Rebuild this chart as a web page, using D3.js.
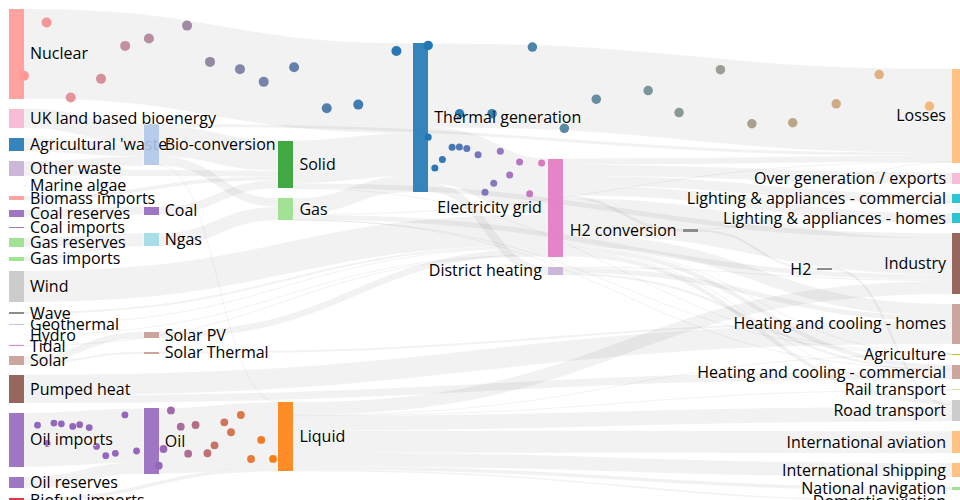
<!DOCTYPE html>
<meta charset="utf-8">
<title>Energy flows with particles</title>
<style>
  body { margin: 0; background: #fff; overflow: hidden; }
  .link { fill: none; stroke: #000; stroke-opacity: .05; }
  .node rect { fill-opacity: .9; shape-rendering: crispEdges; }
  .node text { font-family: "Open Sans", sans-serif; font-size: 16px; pointer-events: none; text-shadow: 0 1px 0 #fff; }
</style>
<body>
<script src="https://d3js.org/d3.v7.min.js"></script>
<script>
var nodeNames = [
  "Agricultural 'waste'", "Bio-conversion", "Liquid", "Losses", "Solid", "Gas",
  "Biofuel imports", "Biomass imports", "Coal imports", "Coal", "Coal reserves",
  "District heating", "Industry", "Heating and cooling - commercial",
  "Heating and cooling - homes", "Electricity grid", "Over generation / exports",
  "H2 conversion", "Road transport", "Agriculture", "Rail transport",
  "Lighting & appliances - commercial", "Lighting & appliances - homes",
  "Gas imports", "Ngas", "Gas reserves", "Thermal generation", "Geothermal", "H2",
  "Hydro", "International shipping", "Domestic aviation", "International aviation",
  "National navigation", "Marine algae", "Nuclear", "Oil imports", "Oil",
  "Oil reserves", "Other waste", "Pumped heat", "Solar PV", "Solar Thermal",
  "Solar", "Tidal", "UK land based bioenergy", "Wave", "Wind"
];

// [source, target, value]
var flows = [
  [0, 1, 124.729], [1, 2, 0.597], [1, 3, 26.862], [1, 4, 280.322], [1, 5, 81.144],
  [6, 2, 35], [7, 4, 35], [8, 9, 11.606], [10, 9, 63.965], [9, 4, 75.571],
  [11, 12, 10.639], [11, 13, 22.505], [11, 14, 46.184], [15, 16, 104.453],
  [15, 14, 113.726], [15, 17, 27.14], [15, 12, 342.165], [15, 18, 37.797],
  [15, 19, 4.412], [15, 13, 40.858], [15, 3, 56.691], [15, 20, 7.863],
  [15, 21, 90.008], [15, 22, 93.494], [23, 24, 40.719], [25, 24, 82.233],
  [5, 13, 0.129], [5, 3, 1.401], [5, 26, 151.891], [5, 19, 2.096], [5, 12, 48.58],
  [27, 15, 7.013], [17, 28, 20.897], [17, 3, 6.242], [28, 18, 20.897],
  [29, 15, 6.995], [2, 12, 121.066], [2, 30, 128.69], [2, 18, 135.835],
  [2, 31, 14.458], [2, 32, 206.267], [2, 19, 3.64], [2, 33, 33.218], [2, 20, 4.413],
  [34, 1, 4.375], [24, 5, 122.952], [35, 26, 839.978], [36, 37, 504.287],
  [38, 37, 107.703], [37, 2, 611.99], [39, 4, 56.587], [39, 1, 77.81],
  [40, 14, 193.026], [40, 13, 70.672], [41, 15, 59.901], [42, 14, 19.263],
  [43, 42, 19.263], [43, 41, 59.901], [4, 19, 0.882], [4, 26, 400.12],
  [4, 12, 46.477], [26, 15, 525.531], [26, 3, 787.129], [26, 11, 79.329],
  [44, 15, 9.452], [45, 1, 182.01], [46, 15, 19.013], [47, 15, 289.366]
];

var category20 = [
  "#1f77b4", "#aec7e8", "#ff7f0e", "#ffbb78", "#2ca02c", "#98df8a", "#d62728",
  "#ff9896", "#9467bd", "#c5b0d5", "#8c564b", "#c49c94", "#e377c2", "#f7b6d2",
  "#7f7f7f", "#c7c7c7", "#bcbd22", "#dbdb8d", "#17becf", "#9edae5"
];

// particles caught mid-flight: [progress along link (0-1), offset from link centre in px]
var nuclearParticles = [
  [0.058, -31.5], [0.0, 22], [0.12, 43], [0.198, 22.9], [0.26, -11.9], [0.321, -21.7],
  [0.419, -40], [0.478, -7.6], [0.555, -5.6], [0.616, 3.3], [0.694, -15.3],
  [0.778, 22.8], [0.859, 17.4], [0.957, -37.2]
];
var lossesParticles = [
  [0.0, -40], [0.06, 28.2], [0.122, 27.7], [0.199, -40], [0.26, 40], [0.321, 9],
  [0.42, -3.6], [0.479, 15.5], [0.558, -31.3], [0.618, 20], [0.696, 16.1],
  [0.779, -5], [0.861, -35.5], [0.957, -4.6]
];
var gridParticles = [
  [0.0, -18.3], [0.056, 12.5], [0.119, 3.3], [0.2, -10.3], [0.261, -12], [0.323, -12.8],
  [0.417, -11.2], [0.603, -26], [0.475, 22.7], [0.548, 9.3], [0.681, -5.8],
  [0.764, -21.7], [0.848, 8.3], [0.948, -23.5]
];
var oilImportParticles = [
  [0.113, -14.6], [0.25, -16.3], [0.312, -15.3], [0.407, -12], [0.465, -13.2],
  [0.545, -9.6], [0.193, 3.9], [0.606, 9.8], [0.683, 19.6], [0.763, 17.6],
  [0.843, -20.5], [0.94, 15.7]
];
var oilParticles = [
  [0.0, 24.7], [0.04, 8], [0.102, -30.5], [0.184, -14], [0.308, -15], [0.246, 13.3],
  [0.407, 14.2], [0.466, 6.9], [0.548, -15.1], [0.604, -4.5], [0.686, -21],
  [0.856, 4.8], [0.771, 23.5], [0.955, 24]
];
var particleSets = [
  {source: "Nuclear", target: "Thermal generation", dots: nuclearParticles},
  {source: "Thermal generation", target: "Losses", dots: lossesParticles},
  {source: "Thermal generation", target: "Electricity grid", dots: gridParticles},
  {source: "Oil imports", target: "Oil", dots: oilImportParticles},
  {source: "Oil", target: "Liquid", dots: oilParticles}
];

// the chart sits 8px in from the corner, like a page with the default body margin
var pageOffset = 8;
var margin = {top: 1, right: 1, bottom: 6, left: 1},
    width = 960 - margin.left - margin.right,
    height = 500 - margin.top - margin.bottom;

var nodeWidth = 15, nodePadding = 10;

var color = d3.scaleOrdinal(category20);

var svg = d3.select("body").append("svg")
    .attr("width", 960)
    .attr("height", 500)
    .style("display", "block")
  .append("g")
    .attr("transform", "translate(" + (margin.left + pageOffset) + "," + (margin.top + pageOffset) + ")");

var nodes = nodeNames.map(function(name) { return {name: name, sourceLinks: [], targetLinks: []}; });
var links = flows.map(function(f) {
  var l = {source: nodes[f[0]], target: nodes[f[1]], value: f[2]};
  l.source.sourceLinks.push(l);
  l.target.targetLinks.push(l);
  return l;
});

layout(32);

function value(d) { return d.value; }
function center(node) { return node.y + node.dy / 2; }

function layout(iterations) {
  nodes.forEach(function(node) {
    node.value = Math.max(d3.sum(node.sourceLinks, value), d3.sum(node.targetLinks, value));
  });

  // breadths
  var remaining = nodes, next, x = 0;
  while (remaining.length) {
    next = [];
    remaining.forEach(function(node) {
      node.x = x;
      node.dx = nodeWidth;
      node.sourceLinks.forEach(function(link) {
        if (next.indexOf(link.target) < 0) next.push(link.target);
      });
    });
    remaining = next;
    ++x;
  }
  nodes.forEach(function(node) { if (!node.sourceLinks.length) node.x = x - 1; });
  var kx = (width - nodeWidth) / (x - 1);
  nodes.forEach(function(node) { node.x *= kx; });

  // depths
  var nodesByBreadth = d3.groups(nodes, function(d) { return d.x; })
      .sort(function(a, b) { return a[0] - b[0]; })
      .map(function(d) { return d[1]; });

  var ky = d3.min(nodesByBreadth, function(col) {
    return (height - (col.length - 1) * nodePadding) / d3.sum(col, value);
  });
  nodesByBreadth.forEach(function(col) {
    col.forEach(function(node, i) { node.y = i; node.dy = node.value * ky; });
  });
  links.forEach(function(link) { link.dy = link.value * ky; });

  resolveCollisions();
  for (var alpha = 1; iterations > 0; --iterations) {
    relaxRightToLeft(alpha *= .99);
    resolveCollisions();
    relaxLeftToRight(alpha);
    resolveCollisions();
  }

  function relaxLeftToRight(alpha) {
    nodesByBreadth.forEach(function(col) {
      col.forEach(function(node) {
        if (node.targetLinks.length) {
          var y = d3.sum(node.targetLinks, function(l) { return center(l.source) * l.value; }) /
                  d3.sum(node.targetLinks, value);
          node.y += (y - center(node)) * alpha;
        }
      });
    });
  }

  function relaxRightToLeft(alpha) {
    nodesByBreadth.slice().reverse().forEach(function(col) {
      col.forEach(function(node) {
        if (node.sourceLinks.length) {
          var y = d3.sum(node.sourceLinks, function(l) { return center(l.target) * l.value; }) /
                  d3.sum(node.sourceLinks, value);
          node.y += (y - center(node)) * alpha;
        }
      });
    });
  }

  function resolveCollisions() {
    nodesByBreadth.forEach(function(col) {
      var node, dy, y0 = 0, n = col.length, i;
      col.sort(function(a, b) { return a.y - b.y; });
      for (i = 0; i < n; ++i) {
        node = col[i];
        dy = y0 - node.y;
        if (dy > 0) node.y += dy;
        y0 = node.y + node.dy + nodePadding;
      }
      dy = y0 - nodePadding - height;
      if (dy > 0) {
        y0 = node.y -= dy;
        for (i = n - 2; i >= 0; --i) {
          node = col[i];
          dy = node.y + node.dy + nodePadding - y0;
          if (dy > 0) node.y -= dy;
          y0 = node.y;
        }
      }
    });
  }

  // link depths
  nodes.forEach(function(node) {
    node.sourceLinks.sort(function(a, b) { return a.target.y - b.target.y; });
    node.targetLinks.sort(function(a, b) { return a.source.y - b.source.y; });
  });
  nodes.forEach(function(node) {
    var sy = 0, ty = 0;
    node.sourceLinks.forEach(function(link) { link.sy = sy; sy += link.dy; });
    node.targetLinks.forEach(function(link) { link.ty = ty; ty += link.dy; });
  });
}

function linkEnds(d) {
  return {
    x0: d.source.x + d.source.dx,
    x1: d.target.x,
    y0: d.source.y + d.sy + d.dy / 2,
    y1: d.target.y + d.ty + d.dy / 2
  };
}

function linkPath(d) {
  var e = linkEnds(d),
      xi = d3.interpolateNumber(e.x0, e.x1),
      x2 = xi(.5), x3 = xi(.5);
  return "M" + e.x0 + "," + e.y0 + "C" + x2 + "," + e.y0 + " " + x3 + "," + e.y1 + " " + e.x1 + "," + e.y1;
}

// point on the link centre line at horizontal progress u
function linkPoint(d, u) {
  var e = linkEnds(d), lo = 0, hi = 1, s = u;
  for (var k = 0; k < 40; k++) {
    s = (lo + hi) / 2;
    var f = 1.5 * s * (1 - s) + s * s * s;
    if (f < u) lo = s; else hi = s;
  }
  var g = 3 * s * s - 2 * s * s * s;
  return {x: e.x0 + (e.x1 - e.x0) * u, y: e.y0 + (e.y1 - e.y0) * g};
}

nodes.forEach(function(d) { d.color = color(d.name.replace(/ .*/, "")); });

svg.append("g").selectAll(".link")
    .data(links.slice().sort(function(a, b) { return b.dy - a.dy; }))
  .enter().append("path")
    .attr("class", "link")
    .attr("d", linkPath)
    .style("stroke-width", function(d) { return Math.max(1, d.dy); });

var particleSize = d3.scaleLinear().domain(d3.extent(links, value)).range([1, 5]);

var dots = [];
particleSets.forEach(function(set) {
  var link = links.find(function(l) { return l.source.name === set.source && l.target.name === set.target; });
  var mix = d3.interpolateRgb(link.source.color, link.target.color);
  set.dots.forEach(function(p) {
    var pt = linkPoint(link, p[0]);
    dots.push({x: pt.x, y: pt.y + p[1], r: particleSize(link.value), fill: mix(p[0])});
  });
});

svg.append("g").selectAll("circle")
    .data(dots)
  .enter().append("circle")
    .attr("cx", function(d) { return d.x; })
    .attr("cy", function(d) { return d.y; })
    .attr("r", function(d) { return d.r; })
    .style("fill", function(d) { return d.fill; });

var node = svg.append("g").selectAll(".node")
    .data(nodes)
  .enter().append("g")
    .attr("class", "node")
    .attr("transform", function(d) { return "translate(" + d.x + "," + d.y + ")"; });

node.append("rect")
    .attr("height", function(d) { return d.dy; })
    .attr("width", nodeWidth)
    .style("fill", function(d) { return d.color; });

node.append("text")
    .attr("x", -6)
    .attr("y", function(d) { return d.dy / 2; })
    .attr("dy", ".35em")
    .attr("text-anchor", "end")
    .text(function(d) { return d.name; })
  .filter(function(d) { return d.x < width / 2; })
    .attr("x", 6 + nodeWidth)
    .attr("text-anchor", "start");
</script>
</body>
